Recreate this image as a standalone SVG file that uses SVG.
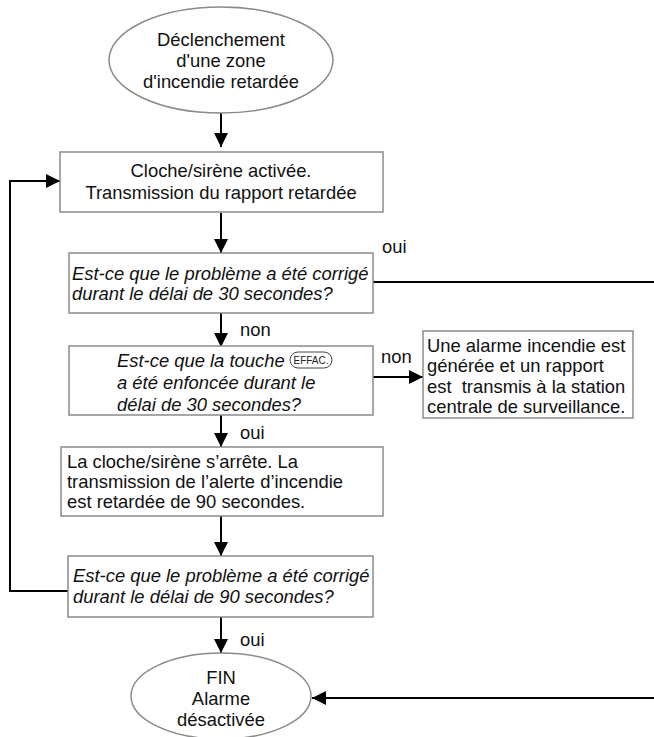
<svg xmlns="http://www.w3.org/2000/svg" width="654" height="737" viewBox="0 0 654 737">
<defs>
<marker id="ah" viewBox="0 0 14 14" refX="14" refY="7" markerWidth="14" markerHeight="14" markerUnits="userSpaceOnUse" orient="auto">
<path d="M0,0 L14,7 L0,14 Z" fill="#000"/>
</marker>
<style>
.n{fill:#fff;stroke:#8a8a8a;stroke-width:1.5}
.t{font-family:"Liberation Sans",Arial,sans-serif;font-size:18.4px;fill:#111}
.c{text-anchor:middle}
.i{font-style:italic}
.e{fill:none;stroke:#000;stroke-width:2}
.a{marker-end:url(#ah)}
.k{fill:#fff;stroke:#444;stroke-width:1}
.kt{font-family:"Liberation Sans",Arial,sans-serif;font-size:10px;fill:#222;text-anchor:middle}
</style>
</defs>
<rect width="654" height="737" fill="#fff"/>
<g id="connectors">
<line class="e a" x1="221" y1="113" x2="221" y2="147"/>
<line class="e a" x1="221" y1="213" x2="221" y2="253"/>
<line class="e" x1="373" y1="282" x2="654" y2="282"/>
<line class="e a" x1="221" y1="313" x2="221" y2="347"/>
<line class="e a" x1="373" y1="377" x2="423" y2="377"/>
<line class="e a" x1="221" y1="415" x2="221" y2="447"/>
<line class="e a" x1="221" y1="516" x2="221" y2="556"/>
<polyline class="e a" points="68,591 10,591 10,181 60,181"/>
<line class="e a" x1="221" y1="617" x2="221" y2="653"/>
<line class="e a" x1="654" y1="698" x2="312" y2="698"/>
<text class="t" x="382" y="253">oui</text>
<text class="t" x="240" y="336">non</text>
<text class="t" x="381" y="363">non</text>
<text class="t" x="240" y="439">oui</text>
<text class="t" x="240" y="646">oui</text>
</g>
<g id="start">
<ellipse class="n" cx="221" cy="60" rx="112" ry="53"/>
<text class="t c" x="221" y="46">Déclenchement</text>
<text class="t c" x="221" y="67">d'une zone</text>
<text class="t c" x="221" y="88">d'incendie retardée</text>
</g>
<g id="bell">
<rect class="n" x="60" y="152" width="323" height="60"/>
<text class="t c" x="221" y="177">Cloche/sirène activée.</text>
<text class="t c" x="221" y="199">Transmission du rapport retardée</text>
</g>
<g id="q30">
<rect class="n" x="69" y="253" width="304" height="60"/>
<text class="t i" x="72" y="280">Est-ce que le problème a été corrigé</text>
<text class="t i" x="72" y="300">durant le délai de 30 secondes?</text>
</g>
<g id="qeffac">
<rect class="n" x="69" y="346" width="304" height="69"/>
<text class="t i" x="117" y="367">Est-ce que la touche</text>
<rect class="k" x="290" y="352" width="42" height="16" rx="8"/>
<text class="kt" x="311" y="363.8">EFFAC.</text>
<text class="t i" x="117" y="389">a été enfoncée durant le</text>
<text class="t i" x="117" y="411">délai de 30 secondes?</text>
</g>
<g id="alarm">
<rect class="n" x="423" y="331" width="210" height="87"/>
<text class="t" x="427" y="352">Une alarme incendie est</text>
<text class="t" x="427" y="372">générée et un rapport</text>
<text class="t" x="427" y="393" style="white-space:pre">est  transmis à la station</text>
<text class="t" x="427" y="413">centrale de surveillance.</text>
</g>
<g id="stop">
<rect class="n" x="61" y="447" width="322" height="69"/>
<text class="t" x="67" y="468">La cloche/sirène s’arrête. La</text>
<text class="t" x="67" y="488">transmission de l’alerte d’incendie</text>
<text class="t" x="67" y="508">est retardée de 90 secondes.</text>
</g>
<g id="q90">
<rect class="n" x="68" y="556" width="305" height="61"/>
<text class="t i" x="73" y="582">Est-ce que le problème a été corrigé</text>
<text class="t i" x="73" y="603">durant le délai de 90 secondes?</text>
</g>
<g id="end">
<ellipse class="n" cx="221" cy="696" rx="90" ry="43"/>
<text class="t c" x="221" y="684">FIN</text>
<text class="t c" x="221" y="705">Alarme</text>
<text class="t c" x="221" y="726">désactivée</text>
</g>
</svg>
